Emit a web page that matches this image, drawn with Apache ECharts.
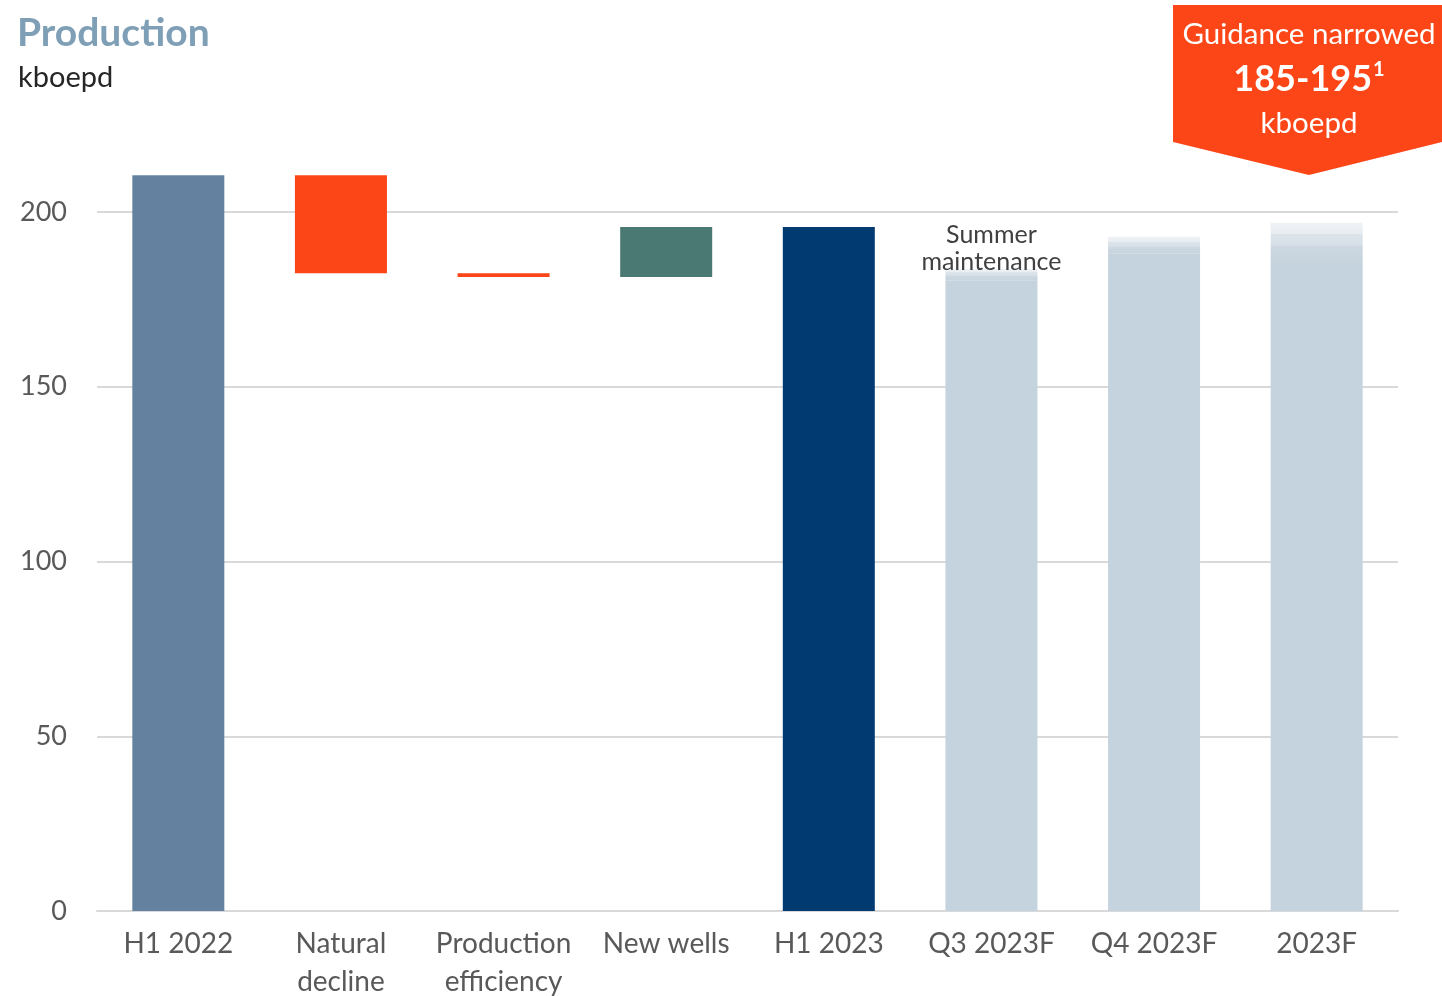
<!DOCTYPE html>
<html>
<head>
<meta charset="utf-8">
<title>Production</title>
<script src="https://cdn.jsdelivr.net/npm/echarts@6/dist/echarts.min.js"></script>
<style>
  html, body { margin: 0; padding: 0; background: #fff; }
  #chart { width: 1442px; height: 996px; }
</style>
</head>
<body>
<div id="chart"></div>
<script>
// data (kboepd)
const categories = ["H1 2022", "Natural\ndecline", "Production\nefficiency", "New wells", "H1 2023", "Q3 2023F", "Q4 2023F", "2023F"];
const startValue = 210.5;
const changes = [-28.0, -1.1, 14.3];
const forecastLow = [180.5, 188.2, 186.0];
const forecastHigh = [183.7, 192.9, 196.9];
const yTicks = [0, 50, 100, 150, 200];

const colors = ["#64829f", "#fc4617", "#fc4617", "#4a7873", "#003a70", "#c5d3de", "#c5d3de", "#c5d3de"];
const font = "Lato, 'Noto Sans', sans-serif";

// waterfall pieces
let baseData = [0];
let solidData = [startValue];
let running = startValue;
changes.forEach(function (c) {
  let next = running + c;
  baseData.push(Math.min(running, next));
  solidData.push(Math.abs(c));
  running = next;
});
baseData.push(0);
solidData.push(running);
let rangeData = ["-", "-", "-", "-", "-"];
forecastLow.forEach(function (v, i) {
  baseData.push(0);
  solidData.push(v);
  rangeData.push(forecastHigh[i] - v);
});

let fade = new echarts.graphic.LinearGradient(0, 0, 0, 1, [
  { offset: 0, color: "#eef2f5" },
  { offset: 0.3, color: "#e8edf2" },
  { offset: 0.3, color: "#dde5eb" },
  { offset: 0.6, color: "#d6dfe7" },
  { offset: 0.6, color: "#cdd8e1" },
  { offset: 1, color: "#c7d4de" },
]);

let chart = echarts.init(document.getElementById("chart"));
let option = {
  animation: false,
  grid: { left: 97, right: 44, top: 212, bottom: 85, outerBoundsMode: "none" },
  xAxis: {
    type: "category",
    data: categories,
    axisTick: { show: false },
    axisLine: { lineStyle: { color: "#d9d9d9", width: 2 } },
    axisLabel: {
      interval: 0,
      margin: 14,
      color: "#595959",
      fontSize: 28,
      lineHeight: 38,
      fontFamily: font,
    },
  },
  yAxis: {
    type: "value",
    min: 0,
    max: 200,
    interval: 50,
    axisLine: { show: false },
    axisTick: { show: false },
    axisLabel: {
      margin: 30,
      color: "#595959",
      fontSize: 27,
      fontFamily: font,
      customValues: yTicks,
    },
    splitLine: { lineStyle: { color: "#d9d9d9", width: 2 } },
  },
  series: [
    {
      type: "bar",
      stack: "w",
      barWidth: 92,
      clip: false,
      itemStyle: { color: "transparent" },
      emphasis: { disabled: true },
      data: baseData,
    },
    {
      type: "bar",
      stack: "w",
      barWidth: 92,
      clip: false,
      emphasis: { disabled: true },
      data: solidData.map(function (v, i) {
        return { value: v, itemStyle: { color: colors[i] } };
      }),
    },
    {
      type: "bar",
      stack: "w",
      barWidth: 92,
      clip: false,
      emphasis: { disabled: true },
      itemStyle: { color: fade },
      data: rangeData.map(function (v, i) {
        if (i === 5) {
          return {
            value: v,
            label: {
              show: true,
              position: "top",
              distance: -6,
              formatter: "Summer\nmaintenance",
              color: "#404040",
              fontSize: 25,
              lineHeight: 27,
              fontFamily: font,
            },
          };
        }
        return v;
      }),
    },
  ],
  graphic: [
    {
      type: "text",
      left: 17,
      top: 14,
      style: { text: "Production", fill: "#7f9fb6", font: "bold 39px " + font },
    },
    {
      type: "text",
      left: 18,
      top: 63,
      style: { text: "kboepd", fill: "#262626", font: "29px " + font },
    },
    {
      type: "polygon",
      shape: { points: [[1173, 5], [1442, 5], [1442, 142], [1309, 175], [1173, 142]] },
      style: { fill: "#fc4617" },
    },
    {
      type: "text",
      x: 1309,
      y: 34,
      style: { text: "Guidance narrowed", fill: "#fff", font: "29.5px " + font, align: "center", verticalAlign: "middle" },
    },
    {
      type: "text",
      x: 1309,
      y: 79,
      style: {
        text: "{b|185-195}{s|1}",
        align: "center",
        verticalAlign: "middle",
        rich: {
          b: { fill: "#fff", font: "bold 36px " + font },
          s: { fill: "#fff", font: "bold 20px " + font, padding: [0, 0, 18, 1] },
        },
      },
    },
    {
      type: "text",
      x: 1309,
      y: 123,
      style: { text: "kboepd", fill: "#fff", font: "29.5px " + font, align: "center", verticalAlign: "middle" },
    },
  ],
};
chart.setOption(option);
</script>
</body>
</html>
